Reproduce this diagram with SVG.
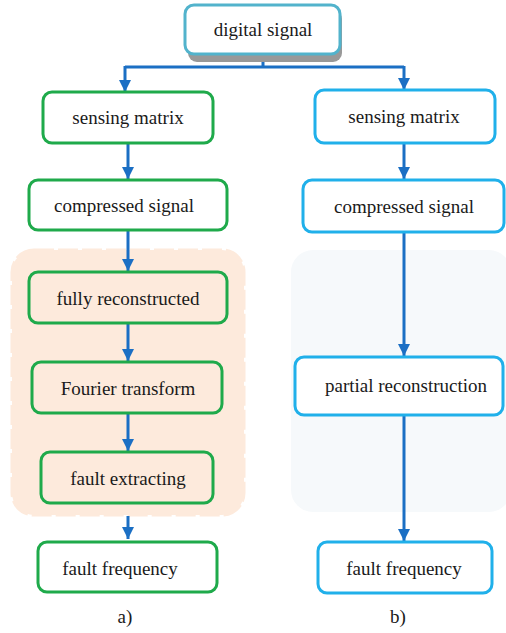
<svg xmlns="http://www.w3.org/2000/svg" width="506" height="633" viewBox="0 0 506 633" font-family="Liberation Serif, serif">
<style>
text{font-family:"Liberation Serif",serif}
.t{font-size:19px;fill:#1a1a1a;text-anchor:middle}
.g{fill:#fff;stroke:#1faa4b;stroke-width:3}
.b{fill:#fff;stroke:#20b0ea;stroke-width:3}
.c{stroke:#1b6fc4;stroke-width:3;fill:none}
</style>
<defs>
<marker id="ah" viewBox="0 0 10 10" refX="10" refY="5" markerWidth="4" markerHeight="4" orient="auto" markerUnits="strokeWidth">
<path d="M0,0 L10,5 L0,10 Z" fill="#1b6fc4"/>
</marker>
</defs>
<g id="backgrounds">
<rect x="12" y="250" width="232" height="265" rx="22" fill="#fdeadc" stroke="#fdeadc" stroke-width="3" stroke-dasharray="20 4"/>
<rect x="291" y="250" width="220" height="262" rx="22" fill="#f6f9fb"/>
</g>
<g id="connectors">
<path class="c" d="M263 56 V67 M125 67 H404"/>
<path class="c" d="M125 66 V92" marker-end="url(#ah)"/>
<path class="c" d="M404 66 V90" marker-end="url(#ah)"/>
<path class="c" d="M128 143 V179" marker-end="url(#ah)"/>
<path class="c" d="M404 143 V179" marker-end="url(#ah)"/>
<path class="c" d="M128 230 V271" marker-end="url(#ah)"/>
<path class="c" d="M128 323 V361" marker-end="url(#ah)"/>
<path class="c" d="M128 413 V451" marker-end="url(#ah)"/>
<path class="c" d="M128 516 V539" marker-end="url(#ah)"/>
<path class="c" d="M404 232 V356" marker-end="url(#ah)"/>
<path class="c" d="M404 416 V541" marker-end="url(#ah)"/>
</g>
<g id="n-digital">
<rect x="188" y="10" width="154" height="52" rx="9" fill="#999"/>
<rect x="185" y="5" width="155" height="49" rx="9" fill="#fff" stroke="#52b3cc" stroke-width="3"/>
<text class="t" x="263" y="36">digital signal</text>
</g>
<g id="n-a-sensing"><rect class="g" x="43" y="92" width="170" height="51" rx="9"/><text class="t" x="128" y="124">sensing matrix</text></g>
<g id="n-a-compressed"><rect class="g" x="29" y="180" width="198" height="50" rx="9"/><text class="t" x="124" y="212">compressed signal</text></g>
<g id="n-a-fully"><rect class="g" x="29" y="272" width="198" height="51" rx="9" style="fill:#fdeadc"/><text class="t" x="128" y="305">fully reconstructed</text></g>
<g id="n-a-fourier"><rect class="g" x="32" y="362" width="190" height="51" rx="9" style="fill:#fdeadc"/><text class="t" x="128" y="395">Fourier transform</text></g>
<g id="n-a-fault-ext"><rect class="g" x="41" y="452" width="172" height="51" rx="9" style="fill:#fdeadc"/><text class="t" x="128" y="485">fault extracting</text></g>
<g id="n-a-freq"><rect class="g" x="38" y="542" width="179" height="50" rx="9"/><text class="t" x="120" y="575">fault frequency</text></g>
<g id="n-b-sensing"><rect class="b" x="315" y="90" width="180" height="53" rx="9"/><text class="t" x="404" y="123">sensing matrix</text></g>
<g id="n-b-compressed"><rect class="b" x="303" y="180" width="201" height="52" rx="9"/><text class="t" x="404" y="213">compressed signal</text></g>
<g id="n-b-partial"><rect class="b" x="295" y="357" width="208" height="58" rx="9"/><text class="t" x="406" y="392">partial reconstruction</text></g>
<g id="n-b-freq"><rect class="b" x="318" y="542" width="174" height="51" rx="9"/><text class="t" x="404" y="575">fault frequency</text></g>
<g id="labels">
<text class="t" x="125" y="623">a)</text>
<text class="t" x="398" y="623">b)</text>
</g>
</svg>
